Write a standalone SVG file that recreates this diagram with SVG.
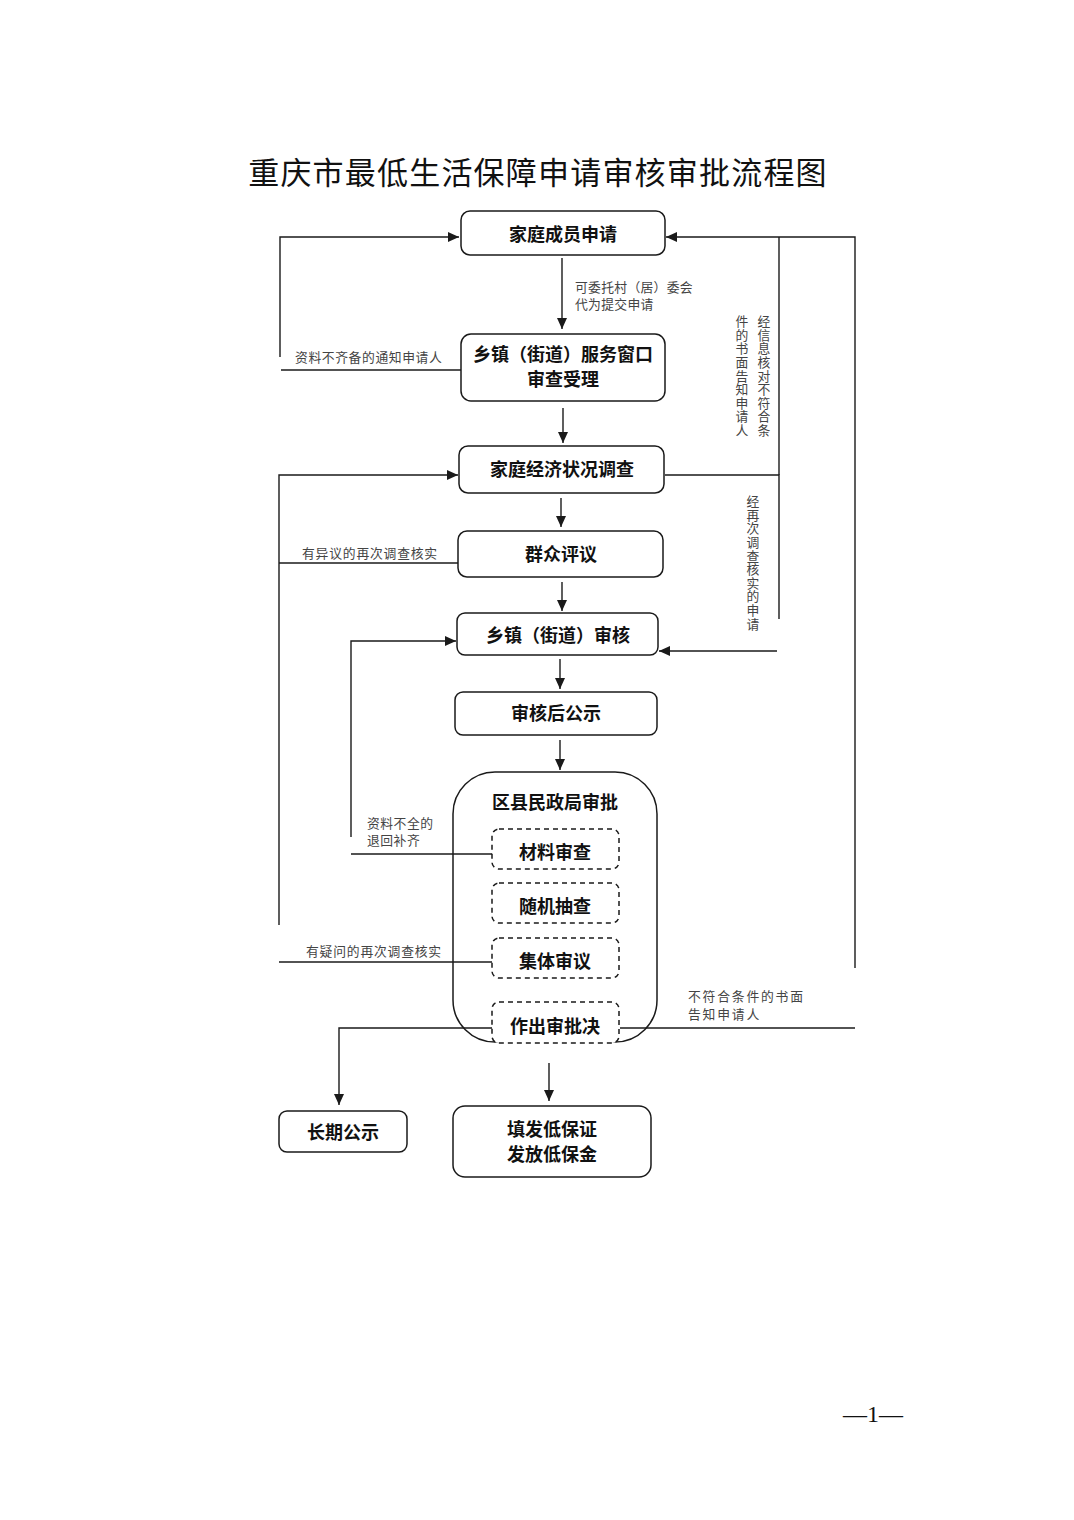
<svg xmlns="http://www.w3.org/2000/svg" width="1074" height="1520" viewBox="0 0 1074 1520">
<style>
  .box { fill: #fff; stroke: #1a1a1a; stroke-width: 1.5; }
  .big { fill: none; stroke: #1a1a1a; stroke-width: 1.5; }
  .dash { fill: #fff; stroke: #1a1a1a; stroke-width: 1.5; stroke-dasharray: 5 4; }
  .bt { font-family: "Noto Sans CJK SC", "Noto Sans", sans-serif; font-weight: bold; font-size: 18px; fill: #111; text-anchor: middle; }
  .lbl { font-family: "Noto Sans CJK SC", "Noto Sans", sans-serif; font-size: 12.8px; fill: #444; }
  .vt { font-family: "Noto Sans CJK SC", "Noto Sans", sans-serif; font-size: 12.8px; fill: #444; writing-mode: vertical-rl; letter-spacing: 0.8px; }
  .ln { fill: none; stroke: #1a1a1a; stroke-width: 1.4; }
  .arr { fill: none; stroke: #1a1a1a; stroke-width: 1.4; marker-end: url(#ah); }
</style>
<defs>
  <marker id="ah" viewBox="0 0 11 10" refX="11" refY="5" markerWidth="11" markerHeight="10" markerUnits="userSpaceOnUse" orient="auto">
    <path d="M0,0 L11,5 L0,10 Z" fill="#1a1a1a"/>
  </marker>
</defs>
<rect width="1074" height="1520" fill="#fff"/>

<text x="538" y="184" font-family="Noto Sans CJK SC, Noto Sans, sans-serif" font-size="31" fill="#111" text-anchor="middle" letter-spacing="1.2">重庆市最低生活保障申请审核审批流程图</text>

<g id="n1">
  <rect class="box" x="461" y="211" width="204" height="44" rx="9"/>
  <text class="bt" x="563" y="241">家庭成员申请</text>
</g>
<g id="n2">
  <rect class="box" x="461" y="334" width="204" height="67" rx="10"/>
  <text class="bt" x="563" y="361" font-size="16">乡镇（街道）服务窗口</text>
  <text class="bt" x="563" y="386">审查受理</text>
</g>
<g id="n3">
  <rect class="box" x="459" y="446" width="205" height="47" rx="9"/>
  <text class="bt" x="562" y="476">家庭经济状况调查</text>
</g>
<g id="n4">
  <rect class="box" x="458" y="531" width="205" height="46" rx="9"/>
  <text class="bt" x="561" y="561">群众评议</text>
</g>
<g id="n5">
  <rect class="box" x="457" y="613" width="201" height="42" rx="8"/>
  <text class="bt" x="558" y="642">乡镇（街道）审核</text>
</g>
<g id="n6">
  <rect class="box" x="455" y="692" width="202" height="43" rx="8"/>
  <text class="bt" x="556" y="720">审核后公示</text>
</g>
<g id="n7">
  <rect class="big" x="453" y="772" width="204" height="270" rx="42"/>
  <text class="bt" x="555" y="809">区县民政局审批</text>
</g>

<g id="connectors">
  <!-- main flow -->
  <line class="arr" x1="562" y1="258" x2="562" y2="329"/>
  <line class="arr" x1="563" y1="408" x2="563" y2="443"/>
  <line class="arr" x1="561" y1="498" x2="561" y2="527"/>
  <line class="arr" x1="562" y1="582" x2="562" y2="611"/>
  <line class="arr" x1="560" y1="659" x2="560" y2="689"/>
  <line class="arr" x1="560" y1="740" x2="560" y2="770"/>
  <line class="arr" x1="549" y1="1063" x2="549" y2="1101"/>
  <!-- left: incomplete docs back to application -->
  <line class="ln" x1="281" y1="370" x2="461" y2="370"/>
  <polyline class="arr" points="280,357 280,237 459,237"/>
  <!-- left: objection back to survey -->
  <line class="ln" x1="279" y1="563" x2="458" y2="563"/>
  <polyline class="arr" points="279,925 279,475 458,475"/>
  <line class="ln" x1="279" y1="962" x2="492" y2="962"/>
  <!-- left: incomplete back to town review -->
  <polyline class="arr" points="351,837 351,641 456,641"/>
  <line class="ln" x1="351" y1="854" x2="492" y2="854"/>
  <!-- bottom left to long-term publicity -->
  <polyline class="arr" points="492,1028 339,1028 339,1105"/>
  <!-- right side -->
  <polyline class="ln" points="665,475 779,475 779,619"/>
  <line class="ln" x1="779" y1="475" x2="779" y2="237"/>
  <polyline class="arr" points="855,968 855,237 666,237"/>
  <line class="arr" x1="777" y1="651" x2="659" y2="651"/>
  <line class="ln" x1="620" y1="1028" x2="855" y2="1028"/>
</g>

<g id="labels">
  <text class="lbl" x="575" y="292" letter-spacing="0.3">可委托村（居）委会</text>
  <text class="lbl" x="575" y="309" letter-spacing="0.3">代为提交申请</text>
  <text class="lbl" x="295" y="362" letter-spacing="0.6">资料不齐备的通知申请人</text>
  <text class="lbl" x="302" y="558" letter-spacing="0.8">有异议的再次调查核实</text>
  <text class="lbl" x="367" y="828" letter-spacing="0.5">资料不全的</text>
  <text class="lbl" x="367" y="845" letter-spacing="0.5">退回补齐</text>
  <text class="lbl" x="306" y="956" letter-spacing="0.8">有疑问的再次调查核实</text>
  <text class="lbl" x="688" y="1001" letter-spacing="1.8">不符合条件的书面</text>
  <text class="lbl" x="688" y="1019" letter-spacing="1.8">告知申请人</text>
  <text class="vt" x="764" y="315">经信息核对不符合条</text>
  <text class="vt" x="742" y="315">件的书面告知申请人</text>
  <text class="vt" x="753" y="495">经再次调查核实的申请</text>
</g>

<g id="n7a">
  <rect class="dash" x="492" y="829" width="127" height="40" rx="7"/>
  <text class="bt" x="555" y="859" font-size="17">材料审查</text>
</g>
<g id="n7b">
  <rect class="dash" x="492" y="883" width="127" height="40" rx="7"/>
  <text class="bt" x="555" y="913" font-size="17">随机抽查</text>
</g>
<g id="n7c">
  <rect class="dash" x="492" y="938" width="127" height="40" rx="7"/>
  <text class="bt" x="555" y="968" font-size="17">集体审议</text>
</g>
<g id="n7d">
  <rect class="dash" x="492" y="1002" width="127" height="41" rx="7"/>
  <text class="bt" x="555" y="1033" font-size="17">作出审批决</text>
</g>
<g id="n8">
  <rect class="box" x="279" y="1111" width="128" height="41" rx="8"/>
  <text class="bt" x="343" y="1139">长期公示</text>
</g>
<g id="n9">
  <rect class="box" x="453" y="1106" width="198" height="71" rx="12"/>
  <text class="bt" x="552" y="1136">填发低保证</text>
  <text class="bt" x="552" y="1161">发放低保金</text>
</g>

<text x="873" y="1422" font-family="Liberation Serif, serif" font-size="24" fill="#111" text-anchor="middle">—1—</text>
</svg>
